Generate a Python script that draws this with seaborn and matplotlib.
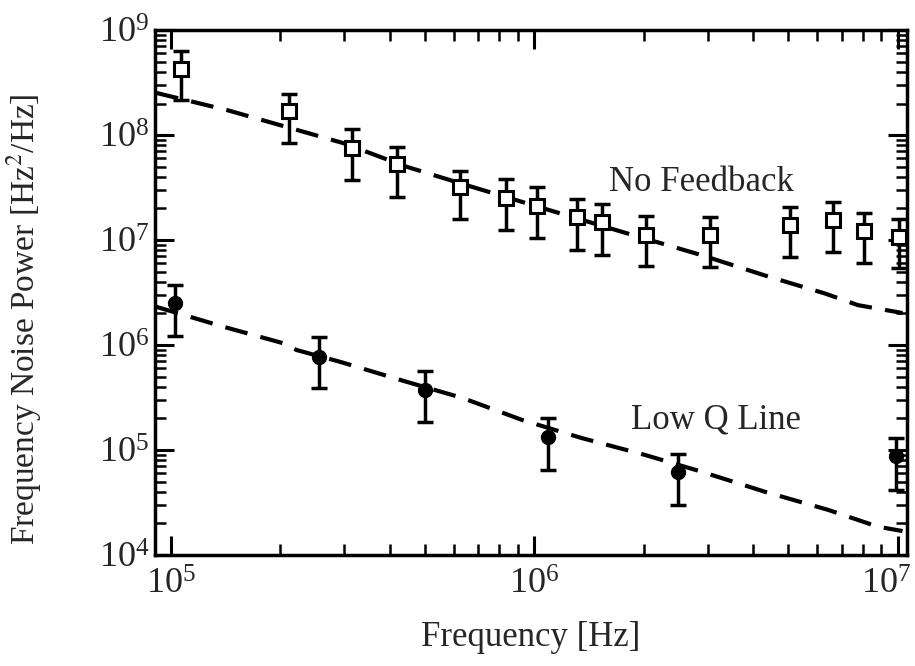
import numpy as np
import pandas as pd
import matplotlib
matplotlib.use("Agg")
import matplotlib.pyplot as plt
import matplotlib.transforms as mtransforms
import seaborn as sns
from matplotlib.ticker import LogLocator, NullFormatter

# Measured frequency noise, no feedback (open squares)
nf_freq = [1.07e5, 2.12e5, 3.15e5, 4.19e5, 6.24e5, 8.36e5, 1.02e6, 1.31e6,
           1.54e6, 2.03e6, 3.05e6, 5.05e6, 6.64e6, 8.07e6, 1.01e7]
nf_power = [4.25e8, 1.69e8, 7.5e7, 5.3e7, 3.2e7, 2.5e7, 2.1e7, 1.67e7,
            1.49e7, 1.13e7, 1.12e7, 1.39e7, 1.55e7, 1.22e7, 1.06e7]
nf_upper = [6.4e8, 2.46e8, 1.14e8, 7.7e7, 4.57e7, 3.8e7, 3.2e7, 2.45e7,
            2.2e7, 1.7e7, 1.67e7, 2.07e7, 2.3e7, 1.8e7, 1.58e7]
nf_lower = [2.15e8, 8.45e7, 3.7e7, 2.6e7, 1.6e7, 1.24e7, 1.04e7, 8.0e6,
            7.2e6, 5.65e6, 5.6e6, 6.9e6, 7.7e6, 6.0e6, 5.4e6]

# Model curve, no feedback
nf_model_freq = [9.1e4, 1.43e5, 2.13e5, 2.98e5, 4.46e5, 6.5e5, 1.1e6, 1.74e6,
                 2.88e6, 4.31e6, 6.3e6, 7.77e6, 1.03e7]
nf_model_power = [2.53e8, 1.73e8, 1.17e8, 8.4e7, 4.99e7, 3.34e7, 1.93e7, 1.2e7,
                  7.2e6, 4.6e6, 3.1e6, 2.4e6, 2.02e6]

# Measured frequency noise, low Q line (filled circles)
lq_freq = [1.03e5, 2.55e5, 5.02e5, 1.09e6, 2.48e6, 9.9e6]
lq_power = [2.5e6, 7.7e5, 3.7e5, 1.34e5, 6.2e4, 8.8e4]
lq_upper = [3.7e6, 1.2e6, 5.7e5, 2.03e5, 9.2e4, 1.29e5]
lq_lower = [1.22e6, 3.9e5, 1.84e5, 6.5e4, 3.0e4, 4.2e4]

# Model curve, low Q line
lq_model_freq = [9.1e4, 1.4e5, 2.04e5, 2.22e5, 2.92e5, 4.45e5, 6.35e5, 9.27e5,
                 1.35e6, 2.02e6, 2.89e6, 4.31e6, 6.43e6, 8.81e6, 1.03e7]
lq_model_power = [2.32e6, 1.49e6, 1.04e6, 8.96e5, 6.93e5, 4.47e5, 3.13e5, 1.93e5,
                  1.3e5, 8.96e4, 6.2e4, 4.0e4, 2.69e4, 1.86e4, 1.69e4]

sns.set_theme(style="ticks")
plt.rcParams["font.family"] = ["Liberation Serif", "DejaVu Serif"]
plt.rcParams["mathtext.fontset"] = "stix"

fig = plt.figure(figsize=(9.15, 6.66), dpi=100)
ax = fig.add_axes([0.1694, 0.1667, 0.8219, 0.788])

models = pd.concat([
    pd.DataFrame({"f": nf_model_freq, "p": nf_model_power, "s": "No Feedback"}),
    pd.DataFrame({"f": lq_model_freq, "p": lq_model_power, "s": "Low Q Line"}),
])
sns.lineplot(data=models, x="f", y="p", units="s", estimator=None, color="black",
             lw=3, dashes=False, ax=ax, legend=False, sort=False)
for line in ax.get_lines():
    line.set_dashes((5.5, 3.2))

nf_p = np.array(nf_power)
lq_p = np.array(lq_power)
ax.errorbar(nf_freq, nf_p, yerr=[nf_p - np.array(nf_lower), np.array(nf_upper) - nf_p],
            fmt="none", ecolor="black", elinewidth=2.5, capsize=6, capthick=2.5, zorder=3)
ax.errorbar(lq_freq, lq_p, yerr=[lq_p - np.array(lq_lower), np.array(lq_upper) - lq_p],
            fmt="none", ecolor="black", elinewidth=2.5, capsize=6, capthick=2.5, zorder=3)
ax.plot(nf_freq, nf_power, ls="none", marker="s", ms=10, mfc="white",
        mec="black", mew=2.2, zorder=4)
ax.plot(lq_freq, lq_power, ls="none", marker="o", ms=10, mfc="black",
        mec="black", zorder=4)

ax.set_xscale("log")
ax.set_yscale("log")
ax.set_xlim(9.05e4, 1.06e7)
ax.set_ylim(1e4, 1e9)

ax.xaxis.set_major_locator(LogLocator(base=10, numticks=10))
ax.yaxis.set_major_locator(LogLocator(base=10, numticks=10))
ax.xaxis.set_minor_locator(LogLocator(base=10, subs=np.arange(2, 10), numticks=20))
ax.yaxis.set_minor_locator(LogLocator(base=10, subs=np.arange(2, 10), numticks=20))
ax.xaxis.set_minor_formatter(NullFormatter())
ax.yaxis.set_minor_formatter(NullFormatter())

ax.tick_params(which="both", direction="in", top=True, right=True, color="black")
ax.tick_params(which="major", length=14, width=2.2, labelsize=26)
ax.tick_params(which="minor", length=8, width=1.8)
ax.tick_params(axis="x", which="major", pad=10)
ax.tick_params(axis="y", which="major", pad=4)
for s in ax.spines.values():
    s.set_linewidth(2.5)
    s.set_color("black")

ax.set_xlabel("Frequency [Hz]", fontsize=25, labelpad=14)
ax.set_ylabel("Frequency Noise Power [Hz$^2$/Hz]", fontsize=24)
ax.yaxis.set_label_coords(-0.148, 0.45)

ax.text(1.61e6, 3.57e7, "No Feedback", fontsize=25, ha="left", va="center")
ax.text(1.85e6, 1.93e5, "Low Q Line", fontsize=25, ha="left", va="center")

# nudge the rightmost frequency label so it stays inside the figure
fig.canvas.draw()
shift = mtransforms.ScaledTranslation(-12 / 100, 0, fig.dpi_scale_trans)
for lab in ax.get_xticklabels():
    if lab.get_text() and "7" in lab.get_text():
        lab.set_transform(lab.get_transform() + shift)

fig.savefig("out.png", dpi=100)
